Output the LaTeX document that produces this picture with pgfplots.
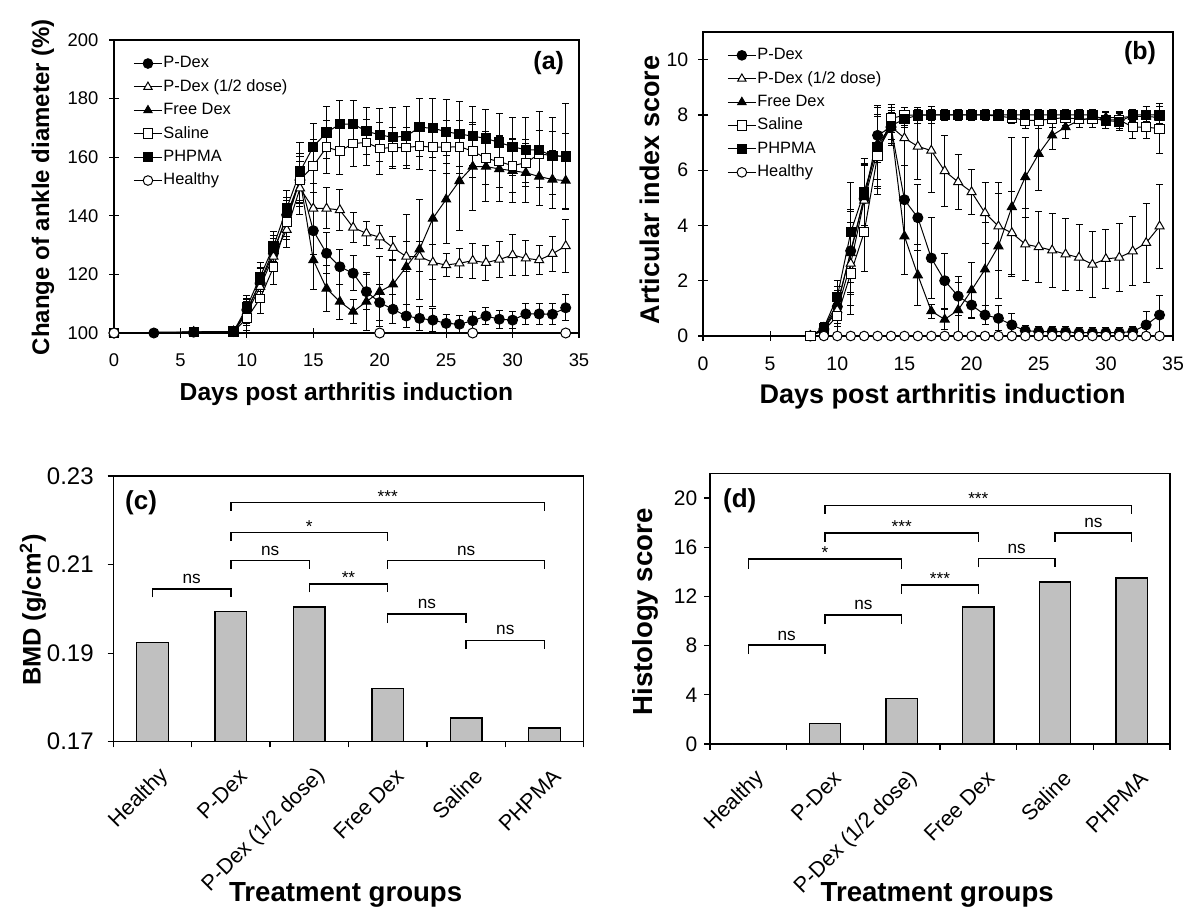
\documentclass[border=0pt]{standalone}
\usepackage{fontspec}
\setmainfont{Liberation Sans}
\usepackage{pgfplots}
\usepackage{pgfplotstable}
\pgfplotsset{compat=1.18}

% ---------- panel (a) data: day, value, error ----------
\pgfplotstableread{
d v e
0 100 0
3 100 0
6 100.3 0.5
9 100.5 0.5
10 107.9 4
11 117 5
12 127.2 5
13 140.3 6
14 152.2 8
15 134.9 8
16 127.2 7
17 122.6 6
18 120.4 6
19 114.1 6
20 110.4 6
21 108.1 5
22 105.8 4
23 105 4
24 104.4 4
25 103.3 3
26 103 3
27 104.2 3
28 105.8 3
29 104.7 3
30 104.4 3
31 106.5 3.5
32 106.5 3.5
33 106.4 3.5
34 108.6 4.5
}\aPD
\pgfplotstableread{
d v e
0 100 0
6 100.3 0.5
9 100.5 0.5
10 106.7 4
11 115.8 5
12 126.1 5
13 135.2 6
14 149.4 9
15 142.5 8.5
16 142.5 7
17 142 7
18 136 5
19 134 4
20 132.7 4
21 129.1 4
22 126.1 5
23 126.1 5
24 124.1 6
25 123.2 4
26 123.8 5
27 124.7 6
28 124 6
29 125.1 6
30 126.6 7
31 125.5 6
32 124.9 5
33 127 6
34 129.7 9
}\aHalf
\pgfplotstableread{
d v e
0 100 0
6 100.3 0.5
9 100.5 0.5
10 107.3 4
11 117.5 5
12 128.3 5
13 139.1 6
14 152.4 8
15 124.9 10
16 115.2 8
17 110.7 6
18 107.3 4
19 110.7 10
20 114.1 12
21 116.6 8
22 122.6 18
23 128.6 17
24 139.1 30
25 145.6 15
26 151.9 17
27 156.8 15
28 156.8 12
29 156 11
30 155.4 11
31 154.7 10
32 153.4 10
33 152.4 10
34 152 10
}\aFree
\pgfplotstableread{
d v e
0 100 0
6 100.3 0.5
9 100.5 0.5
10 105 4
11 111.8 5
12 122.4 6
13 138 6
14 152.2 9
15 157 9
16 163.4 9
17 162.1 8
18 164.7 8
19 165 8
20 163 9
21 163.3 7
22 163.3 7
23 163.8 8
24 163.4 8
25 163.4 9
26 163.6 9
27 162.1 9
28 159.6 9
29 158.5 9
30 157.1 9
31 158.1 8
32 161.1 8
33 160.6 8
34 160.2 8
}\aSal
\pgfplotstableread{
d v e
0 100 0
6 100.3 0.5
9 100.5 0.5
10 108.8 4
11 119.2 5
12 129.5 5
13 142.5 6
14 155.1 10
15 163.6 8
16 168.4 9
17 171.3 8
18 171.3 8
19 168.9 8
20 167.6 9
21 166.8 10
22 167.2 10
23 170.2 10
24 169.9 10
25 168.7 11
26 167.9 11
27 167.2 10
28 166.4 10
29 165 10
30 163.6 10
31 162.5 11
32 162.5 13
33 160.4 13
34 160.4 18
}\aPH
\pgfplotstableread{
d v
0 100
20 100
27 100
34 100
}\aHe

% ---------- panel (b) data ----------
\pgfplotstableread{
d v e
8 0 0
9 0.25 0.2
10 1.06 0.6
11 3.08 1.5
12 4.97 1.2
13 7.26 1.0
14 7.56 0.6
15 4.93 2.7
16 4.28 1.2
17 2.82 1.45
18 2.0 1.0
19 1.44 0.7
20 1.12 0.5
21 0.76 0.35
22 0.64 0.45
23 0.4 0.4
24 0.19 0.2
25 0.16 0.2
26 0.16 0.2
27 0.15 0.2
28 0.12 0.2
29 0.12 0.2
30 0.12 0.2
31 0.12 0.2
32 0.16 0.2
33 0.4 0.5
34 0.76 0.7
}\bPD
\pgfplotstableread{
d v e
8 0 0
9 0.25 0.2
10 0.94 0.6
11 2.62 1.5
12 4.9 1.3
13 6.7 1.3
14 7.58 0.7
15 7.16 1.0
16 6.86 1.2
17 6.71 1.5
18 5.97 1.28
19 5.57 1.0
20 5.21 0.8
21 4.45 1.1
22 3.97 1.6
23 3.73 1.5
24 3.32 1.3
25 3.22 1.27
26 3.1 1.35
27 2.96 1.3
28 2.84 1.2
29 2.59 1.2
30 2.79 1.06
31 2.84 1.23
32 3.07 1.26
33 3.37 1.42
34 3.97 1.52
}\bHalf
\pgfplotstableread{
d v e
8 0 0
9 0.3 0.2
10 1.18 0.6
11 3.0 1.5
12 5.03 1.2
13 6.95 1.3
14 7.58 0.7
15 3.61 1.4
16 2.2 1.1
17 0.9 0.25
18 0.6 0.35
19 0.94 1.0
20 1.66 1.0
21 2.41 1.7
22 3.25 1.9
23 4.67 2.5
24 5.75 1.45
25 6.59 1.32
26 7.26 0.5
27 7.56 0.4
28 7.8 0.25
29 7.9 0.2
30 7.9 0.2
31 7.9 0.2
32 7.95 0.2
33 7.95 0.2
34 7.9 0.2
}\bFree
\pgfplotstableread{
d v e
8 0 0
9 0.2 0.2
10 0.72 0.6
11 2.26 1.5
12 3.75 1.4
13 6.53 1.4
14 7.88 0.5
15 7.98 0.3
16 8 0.2
17 8 0.2
18 8 0.2
19 8 0.2
20 8 0.2
21 8 0.2
22 7.95 0.1
23 7.9 0.2
24 7.8 0.3
25 7.8 0.3
26 7.86 0.3
27 7.9 0.3
28 7.85 0.3
29 7.85 0.3
30 7.82 0.3
31 7.82 0.3
32 7.56 0.4
33 7.56 0.4
34 7.5 0.9
}\bSal
\pgfplotstableread{
d v e
9 0.3 0.2
10 1.42 0.6
11 3.75 1.8
12 5.21 1.2
13 6.84 1.5
14 7.6 0.5
15 7.86 0.3
16 7.98 0.3
17 8 0.3
18 8 0.2
19 8 0.2
20 8 0.2
21 8 0.2
22 8 0.2
23 8 0.2
24 8 0.2
25 8 0.2
26 8 0.2
27 8 0.2
28 8 0.2
29 8 0.2
30 7.8 0.3
31 7.75 0.3
32 8 0.2
33 8 0.3
34 8 0.3
}\bPH
\pgfplotstableread{
d v
9 0
10 0
11 0
12 0
13 0
14 0
15 0
16 0
17 0
18 0
19 0
20 0
21 0
22 0
23 0
24 0
25 0
26 0
27 0
28 0
29 0
30 0
31 0
32 0
33 0
34 0
}\bHe

% ---------- bar data ----------
\pgfplotstableread{
x v
0 0.1924
1 0.1994
2 0.2004
3 0.1820
4 0.1753
5 0.1731
}\cBMD
\pgfplotstableread{
x v
0 0
1 1.65
2 3.71
3 11.12
4 13.18
5 13.5
}\dHis

\definecolor{bargray}{RGB}{192,192,192}

\tikzset{sig/.style={font=\fontsize{8.6}{9}\selectfont, anchor=base, inner sep=0pt}}

\pgfplotsset{
  lineax/.style={scale only axis, anchor=south west,
    tick align=center, major tick length=4.65pt, tick pos=left,
    axis line style={line width=0.75pt}, tick style={line width=0.6pt, black},
    clip=false, legend cell align=left,
    xticklabel style={yshift=-4.5pt},
    legend image code/.code={\draw[##1, mark size=2.4pt, mark repeat=2, mark phase=2] plot coordinates {(0pt,0pt) (7pt,0pt) (14pt,0pt)};},
    legend style={draw=none, fill=none, anchor=north west, inner sep=0pt, row sep=0pt,
      font=\fontsize{8.2}{9}\selectfont,
      nodes={inner xsep=0.5pt, inner ysep=2.05pt, text height=6pt, text depth=1.6pt}},
  },
  barax/.style={scale only axis, anchor=south west,
    tick align=outside, major tick length=2.8pt, tick pos=left,
    axis line style={line width=0.75pt}, tick style={line width=0.6pt, black},
    xmin=-0.5, xmax=5.5,
    xtick={-0.5,0.5,1.5,2.5,3.5,4.5,5.5}, xticklabels={},
    extra x ticks={0,1,2,3,4,5},
    extra x tick labels={Healthy,P-Dex,P-Dex (1/2 dose),Free Dex,Saline,PHPMA},
    extra x tick style={major tick length=0pt,
      xticklabel style={font=\fontsize{10.8}{12}\selectfont, xshift=8.6pt, yshift=-13pt, rotate=45, anchor=east}},
  },
  ln/.style={black, line width=0.5pt},
  errs/.style={error bars/.cd, y dir=both, y explicit,
    error bar style={line width=0.5pt, black},
    error mark options={rotate=90, line width=0.5pt, mark size=1.75pt, black}},
  brk/.style={black, line width=0.75pt, mark=none, forget plot},
}

\begin{document}
\begin{tikzpicture}
\useasboundingbox (0,0) rectangle (600pt,458.5pt);

% ================= (a) =================
\begin{axis}[lineax, at={(57pt,292pt)}, width=232.5pt, height=146.5pt,
  xmin=0, xmax=35, ymin=100, ymax=200,
  xtick={0,5,10,15,20,25,30,35}, xticklabels={0,5,10,15,20,25,30,35},
  ytick={100,120,140,160,180,200}, yticklabels={100,120,140,160,180,200},
  ticklabel style={font=\fontsize{9.2}{10}\selectfont},
  yticklabel style={xshift=-2pt},
  xlabel={\bfseries Days post arthritis induction},
  ylabel={\bfseries Change of ankle diameter (\%)},
  xlabel style={font=\fontsize{12.3}{14}\selectfont, at={(axis description cs:0.5,-0.208)}, anchor=center},
  ylabel style={font=\fontsize{12}{14}\selectfont, at={(axis description cs:-0.1527,0.498)}, anchor=center},
  legend style={at={(0.041,0.961)}},
]
\addplot[ln, mark=*, mark size=2.5pt, mark options={fill=black, solid}, errs] table[x=d,y=v,y error=e] {\aPD};
\addlegendentry{P-Dex}
\addplot[ln, mark=triangle*, mark size=2.6pt, mark options={fill=white, solid}, errs] table[x=d,y=v,y error=e] {\aHalf};
\addlegendentry{P-Dex (1/2 dose)}
\addplot[ln, mark=triangle*, mark size=2.6pt, mark options={fill=black, solid}, errs] table[x=d,y=v,y error=e] {\aFree};
\addlegendentry{Free Dex}
\addplot[ln, mark=square*, mark size=2.2pt, mark options={fill=white, solid}, errs] table[x=d,y=v,y error=e] {\aSal};
\addlegendentry{Saline}
\addplot[ln, mark=square*, mark size=2.3pt, mark options={fill=black, solid}, errs] table[x=d,y=v,y error=e] {\aPH};
\addlegendentry{PHPMA}
\addplot[ln, mark=*, mark size=2.5pt, mark options={fill=white, solid}] table[x=d,y=v] {\aHe};
\addlegendentry{Healthy}
\node[font=\fontsize{12.5}{14}\selectfont\bfseries] at (axis description cs:0.935,0.9215) {(a)};
\end{axis}

% ================= (b) =================
\begin{axis}[lineax, at={(351.5pt,290.5pt)}, width=235pt, height=152pt,
  xmin=0, xmax=35, ymin=0, ymax=11,
  xtick={0,5,10,15,20,25,30,35}, xticklabels={0,5,10,15,20,25,30,35},
  ytick={0,2,4,6,8,10}, yticklabels={0,2,4,6,8,10},
  ticklabel style={font=\fontsize{9.75}{11}\selectfont},
  yticklabel style={xshift=-1.5pt},
  xlabel={\bfseries Days post arthritis induction},
  ylabel={\bfseries Articular index score},
  xlabel style={font=\fontsize{13.5}{15}\selectfont, at={(axis description cs:0.51,-0.2)}, anchor=center},
  ylabel style={font=\fontsize{13.5}{15}\selectfont, at={(axis description cs:-0.113,0.48)}, anchor=center},
  legend style={at={(0.051,0.963)}},
]
\addplot[ln, mark=*, mark size=2.5pt, mark options={fill=black, solid}, errs] table[x=d,y=v,y error=e] {\bPD};
\addlegendentry{P-Dex}
\addplot[ln, mark=triangle*, mark size=2.6pt, mark options={fill=white, solid}, errs] table[x=d,y=v,y error=e] {\bHalf};
\addlegendentry{P-Dex (1/2 dose)}
\addplot[ln, mark=triangle*, mark size=2.6pt, mark options={fill=black, solid}, errs] table[x=d,y=v,y error=e] {\bFree};
\addlegendentry{Free Dex}
\addplot[ln, mark=square*, mark size=2.3pt, mark options={fill=white, solid}, errs] table[x=d,y=v,y error=e] {\bSal};
\addlegendentry{Saline}
\addplot[ln, mark=square*, mark size=2.3pt, mark options={fill=black, solid}, errs] table[x=d,y=v,y error=e] {\bPH};
\addlegendentry{PHPMA}
\addplot[ln, mark=*, mark size=2.4pt, mark options={fill=white, solid}] table[x=d,y=v] {\bHe};
\addlegendentry{Healthy}
\node[font=\fontsize{12.5}{14}\selectfont\bfseries] at (axis description cs:0.93,0.931) {(b)};
\end{axis}

% ================= (c) =================
\begin{axis}[barax, at={(56.65pt,87.65pt)}, width=235.2pt, height=132.85pt,
  ymin=0.17, ymax=0.23,
  ytick={0.17,0.19,0.21,0.23}, yticklabels={0.17,0.19,0.21,0.23},
  yticklabel style={font=\fontsize{12}{14}\selectfont, xshift=-3.5pt},
  xlabel={\bfseries Treatment groups},
  ylabel={\bfseries BMD (g/cm\textsuperscript{2})},
  xlabel style={font=\fontsize{13.8}{15}\selectfont, at={(axis description cs:0.494,-0.577)}, anchor=center},
  ylabel style={font=\fontsize{12.7}{14}\selectfont, at={(axis description cs:-0.171,0.496)}, anchor=center},
]
\addplot[ybar, bar width=15.8pt, fill=bargray, draw=black, line width=0.75pt] table[x=x,y=v] {\cBMD};
\addplot[brk] coordinates {(0,0.2026) (0,0.2045) (1,0.2045) (1,0.2026)};
\addplot[brk] coordinates {(1,0.2090) (1,0.2109) (2,0.2109) (2,0.2090)};
\addplot[brk] coordinates {(1,0.2153) (1,0.2172) (3,0.2172) (3,0.2153)};
\addplot[brk] coordinates {(1,0.2221) (1,0.2240) (5,0.2240) (5,0.2221)};
\addplot[brk] coordinates {(2,0.2037) (2,0.2056) (3,0.2056) (3,0.2037)};
\addplot[brk] coordinates {(3,0.2090) (3,0.2109) (5,0.2109) (5,0.2090)};
\addplot[brk] coordinates {(3,0.1968) (3,0.1988) (4,0.1988) (4,0.1968)};
\addplot[brk] coordinates {(4,0.1910) (4,0.1929) (5,0.1929) (5,0.1910)};
\node[sig] at (axis cs:0.5,0.2057) {ns};
\node[sig] at (axis cs:1.5,0.2121) {ns};
\node[sig] at (axis cs:2,0.2173) {*};
\node[sig] at (axis cs:3,0.2241) {***};
\node[sig] at (axis cs:2.5,0.2057) {**};
\node[sig] at (axis cs:4,0.2121) {ns};
\node[sig] at (axis cs:3.5,0.2000) {ns};
\node[sig] at (axis cs:4.5,0.1941) {ns};
\node[font=\fontsize{13}{15}\selectfont\bfseries] at (axis description cs:0.059,0.898) {(c)};
\end{axis}

% ================= (d) =================
\begin{axis}[barax, at={(355pt,86.5pt)}, width=230pt, height=135.35pt,
  ymin=0, ymax=22,
  ytick={0,4,8,12,16,20}, yticklabels={0,4,8,12,16,20},
  yticklabel style={font=\fontsize{10.5}{12}\selectfont},
  xlabel={\bfseries Treatment groups},
  ylabel={\bfseries Histology score},
  xlabel style={font=\fontsize{13.8}{15}\selectfont, at={(axis description cs:0.494,-0.558)}, anchor=center},
  ylabel style={font=\fontsize{13.8}{15}\selectfont, at={(axis description cs:-0.141,0.488)}, anchor=center},
]
\addplot[ybar, bar width=15.7pt, fill=bargray, draw=black, line width=0.75pt] table[x=x,y=v] {\dHis};
\addplot[brk] coordinates {(0,7.3) (0,8.04) (1,8.04) (1,7.3)};
\addplot[brk] coordinates {(1,9.74) (1,10.47) (2,10.47) (2,9.74)};
\addplot[brk] coordinates {(0,14.26) (0,15.02) (2,15.02) (2,14.26)};
\addplot[brk] coordinates {(2,12.23) (2,12.91) (3,12.91) (3,12.23)};
\addplot[brk] coordinates {(1,16.43) (1,17.16) (3,17.16) (3,16.43)};
\addplot[brk] coordinates {(3,14.35) (3,15.08) (4,15.08) (4,14.35)};
\addplot[brk] coordinates {(4,16.43) (4,17.16) (5,17.16) (5,16.43)};
\addplot[brk] coordinates {(1,18.73) (1,19.4) (5,19.4) (5,18.73)};
\node[sig] at (axis cs:0.5,8.45) {ns};
\node[sig] at (axis cs:1.5,10.9) {ns};
\node[sig] at (axis cs:1,15.06) {*};
\node[sig] at (axis cs:2.5,12.95) {***};
\node[sig] at (axis cs:2,17.2) {***};
\node[sig] at (axis cs:3.5,15.5) {ns};
\node[sig] at (axis cs:4.5,17.6) {ns};
\node[sig] at (axis cs:3,19.44) {***};
\node[font=\fontsize{13}{15}\selectfont\bfseries] at (axis description cs:0.0646,0.898) {(d)};
\end{axis}
\end{tikzpicture}
\end{document}
